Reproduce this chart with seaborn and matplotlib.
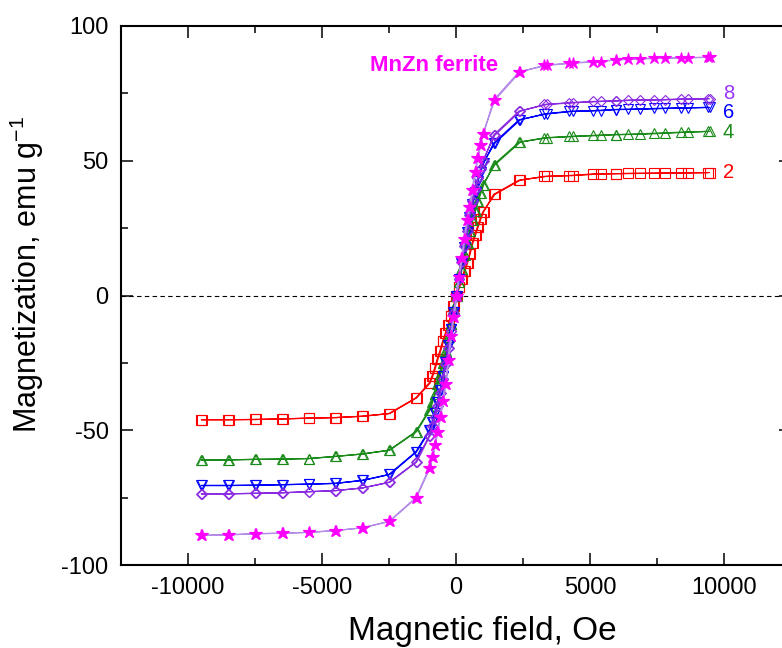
import matplotlib
matplotlib.use("Agg")
import matplotlib.pyplot as plt
import pandas as pd
import seaborn as sns
from matplotlib.ticker import MultipleLocator

# Field values (Oe): descending branch and the returning (ascending) branch,
# both listed from high to low field so that index k pairs with the M lists.
H_down = [9460, 8650, 7800, 6850, 5960, 5100, 4200, 3300, 2400, 1450,
          1000, 900, 800, 700, 600, 500, 400, 300, 200, 100, 0,
          -100, -200, -300, -400, -500, -600, -700, -800, -900, -1000,
          -1500, -2500, -3500, -4500, -5500, -6500, -7500, -8500, -9500]
H_return = [9400, 8400, 7400, 6400, 5960, 5400, 4350, 3400, 2350, 1400,
            1030, 930, 830, 730, 630, 530, 430, 330, 230, 130, 30,
            -70, -170, -270, -370, -470, -570, -670, -770, -870, -970,
            -1470, -2470, -3470, -4470, -5470, -6470, -7470, -8470, -9470]

# Magnetization (emu/g)
M_2 = [45.6, 45.5, 45.4, 45.3, 45.2, 45.1, 44.5, 44.2, 42.8, 37.5,
       31.0, 28.5, 25.5, 22.5, 19.5, 15.5, 12.0, 9.0, 6.0, 3.0, 0.0,
       -4.0, -7.5, -11.0, -14.0, -17.0, -20.5, -23.5, -27.0, -30.0, -32.5,
       -38.0, -43.8, -44.8, -45.3, -45.5, -45.8, -46.0, -46.1, -46.1]
M_4 = [60.9, 60.6, 60.2, 59.8, 59.7, 59.4, 59.0, 58.5, 56.9, 48.5,
       41.0, 38.0, 35.0, 31.5, 28.0, 24.0, 19.5, 15.0, 10.0, 5.0, 0.0,
       -5.0, -10.5, -15.5, -20.5, -25.0, -29.0, -33.0, -36.5, -39.5, -42.5,
       -50.5, -57.4, -58.8, -59.7, -60.5, -60.7, -60.8, -61.0, -61.0]
M_6 = [69.8, 69.6, 69.4, 69.1, 69.0, 68.6, 68.3, 67.4, 65.2, 56.5,
       49.0, 46.0, 42.5, 38.5, 34.0, 29.0, 23.5, 18.0, 12.0, 6.0, 0.0,
       -6.0, -12.5, -18.5, -24.5, -30.0, -35.0, -39.5, -43.5, -47.0, -50.0,
       -58.0, -66.4, -68.6, -69.7, -70.0, -70.2, -70.4, -70.5, -70.5]
M_8 = [73.0, 72.9, 72.6, 72.5, 72.2, 72.0, 71.5, 70.9, 68.4, 59.5,
       50.0, 47.0, 43.5, 39.5, 35.0, 30.0, 24.0, 18.5, 12.5, 6.0, 0.0,
       -6.5, -13.0, -19.5, -25.5, -31.0, -36.0, -41.0, -45.0, -48.5, -52.0,
       -61.8, -69.3, -71.4, -72.4, -72.8, -73.2, -73.4, -73.6, -73.6]
M_ferrite = [88.4, 88.2, 88.0, 87.8, 87.4, 86.8, 86.2, 85.4, 83.0, 72.5,
             60.0, 56.0, 51.0, 46.0, 39.0, 33.0, 28.0, 21.0, 14.0, 7.0, 0.0,
             -8.0, -15.0, -24.0, -33.0, -39.0, -45.0, -50.5, -55.5, -60.0, -64.0,
             -75.0, -83.8, -86.2, -87.2, -87.9, -88.2, -88.4, -88.8, -89.0]

series_names = ["2", "4", "6", "8", "MnZn ferrite"]
series_values = [M_2, M_4, M_6, M_8, M_ferrite]
label_y = [45.6, 60.3, 68.0, 75.0]

sns.set_style("ticks")
plt.rcParams["font.family"] = ["Liberation Sans", "DejaVu Sans"]
plt.rcParams["axes.unicode_minus"] = False
plt.rcParams["text.color"] = "black"
plt.rcParams["axes.labelcolor"] = "black"

fig = plt.figure(figsize=(7.82, 6.48), dpi=100)
ax = fig.add_axes([121 / 782, 83 / 648, 670 / 782, 539 / 648])

ax.axhline(0, color="black", lw=0.8, ls=(0, (4, 3)), zorder=1)

styles = {
    "2": dict(line="#ff0000", edge="#ff0000", face="none", marker="s", ms=6.5),
    "4": dict(line="#1a8a1a", edge="#1a8a1a", face="none", marker="^", ms=7.5),
    "6": dict(line="#0000ff", edge="#0000ff", face="none", marker="v", ms=7.5),
    "8": dict(line="#8a2be2", edge="#8a2be2", face="none", marker="D", ms=5.3),
    "MnZn ferrite": dict(line="#b58be8", edge="#ff00ff", face="#ff00ff", marker="*", ms=9.0),
}

for name, M in zip(series_names, series_values):
    st = styles[name]
    df = pd.DataFrame({"H": H_down + H_return[::-1], "M": M + M[::-1]})
    sns.lineplot(data=df, x="H", y="M", sort=False, estimator=None, ax=ax,
                 color=st["line"], lw=0.9, marker=st["marker"],
                 markersize=st["ms"], markerfacecolor=st["face"],
                 markeredgecolor=st["edge"], markeredgewidth=0.8)

label_colors = ["#ff0000", "#1a8a1a", "#0000ff", "#9933ff"]
for name, y, c in zip(series_names[:4], label_y, label_colors):
    ax.text(9950, y, name, color=c, fontsize=14.5, va="center", ha="left")
ax.text(-3200, 85.3, "MnZn ferrite", color="#ff00ff", fontsize=16,
        fontweight="bold", va="center", ha="left")

ax.set_xlim(-12500, 12500)
ax.set_ylim(-100, 100)
ax.xaxis.set_major_locator(MultipleLocator(5000))
ax.xaxis.set_minor_locator(MultipleLocator(2500))
ax.yaxis.set_major_locator(MultipleLocator(50))
ax.yaxis.set_minor_locator(MultipleLocator(25))
ax.tick_params(which="both", direction="in", top=True, right=True,
               width=1.1, colors="black", labelcolor="black", labelsize=17)
ax.tick_params(which="major", length=8.5, pad=9)
ax.tick_params(which="minor", length=5)
for sp in ax.spines.values():
    sp.set_linewidth(1.5)
    sp.set_color("black")

ax.set_xlabel("Magnetic field, Oe", fontsize=24, color="black")
ax.xaxis.set_label_coords(0.54, -0.095)
ax.set_ylabel(r"Magnetization, emu g$^{\mathregular{-1}}$", fontsize=22, color="black")
ax.yaxis.set_label_coords(-0.112, 0.54)

fig.savefig("out.png", dpi=100)
